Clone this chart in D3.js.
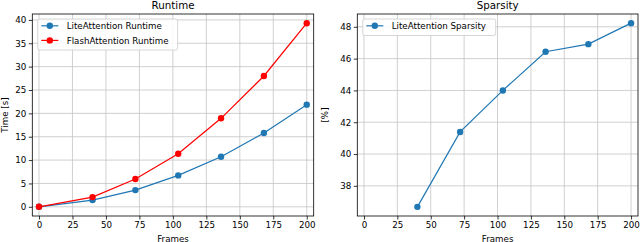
<!DOCTYPE html>
<html><head><meta charset="utf-8">
<script src="https://cdn.jsdelivr.net/npm/d3@7"></script>
<style>
html,body{margin:0;padding:0;background:#fff;}
text{font-family:"DejaVu Sans",sans-serif;}
</style></head>
<body><svg id="c" width="640" height="242"></svg>
<script>
const frames = [0, 40, 72, 104, 136, 168, 200];
const liteRuntime = [0, 1.44, 3.58, 6.72, 10.72, 15.8, 21.86];
const flashRuntime = [0, 2.08, 5.94, 11.36, 18.94, 28.0, 39.3];
const sparsityFrames = [40, 72, 104, 136, 168, 200];
const liteSparsity = [36.68, 41.39, 44.0, 46.43, 46.91, 48.23];
const xTicks = [0, 25, 50, 75, 100, 125, 150, 175, 200];
const runtimeTicks = [0, 5, 10, 15, 20, 25, 30, 35, 40];
const sparsityTicks = [38, 40, 42, 44, 46, 48];

const svg = d3.select("#c");
const FS = 8.7;

function panel(opt) {
  const g = svg.append("g");
  const x = d3.scaleLinear().domain([-5, 205.2]).range([opt.left, opt.right]);
  const y = d3.scaleLinear().domain(opt.ydom).range([opt.bottom, opt.top]);
  // grid
  g.append("g").selectAll("line").data(xTicks).join("line")
    .attr("x1", d => x(d)).attr("x2", d => x(d))
    .attr("y1", opt.top).attr("y2", opt.bottom)
    .attr("stroke", "#c4c4c4").attr("stroke-width", 0.8);
  g.append("g").selectAll("line").data(opt.yticks).join("line")
    .attr("y1", d => y(d)).attr("y2", d => y(d))
    .attr("x1", opt.left).attr("x2", opt.right)
    .attr("stroke", "#c4c4c4").attr("stroke-width", 0.8);
  // axes
  const xa = g.append("g").attr("transform", `translate(0,${opt.bottom})`)
    .call(d3.axisBottom(x).tickValues(xTicks).tickSize(3.5).tickPadding(2.5).tickFormat(d3.format("d")));
  const ya = g.append("g").attr("transform", `translate(${opt.left},0)`)
    .call(d3.axisLeft(y).tickValues(opt.yticks).tickSize(3.5).tickPadding(2.5).tickFormat(d3.format("d")));
  [xa, ya].forEach(a => {
    a.select(".domain").remove();
    a.selectAll("line").attr("stroke", "#000").attr("stroke-width", 0.8);
    a.selectAll("text").attr("font-size", FS).attr("fill", "#000").attr("font-family", "DejaVu Sans");
  });
  // spines
  g.append("rect").attr("x", opt.left).attr("y", opt.top)
    .attr("width", opt.right - opt.left).attr("height", opt.bottom - opt.top)
    .attr("fill", "none").attr("stroke", "#000").attr("stroke-width", 0.8);
  // series
  opt.series.forEach(s => {
    const pts = s.xs.map((v, i) => [v, s.ys[i]]);
    g.append("path").datum(pts)
      .attr("d", d3.line().x(d => x(d[0])).y(d => y(d[1])))
      .attr("fill", "none").attr("stroke", s.color).attr("stroke-width", 1.2);
    g.append("g").selectAll("circle").data(pts).join("circle")
      .attr("cx", d => x(d[0])).attr("cy", d => y(d[1])).attr("r", 3.2)
      .attr("fill", s.color);
  });
  // title and labels
  const cx = (opt.left + opt.right) / 2;
  g.append("text").attr("x", cx).attr("y", 9.3).attr("text-anchor", "middle")
    .attr("font-size", 10.3).text(opt.title);
  g.append("text").attr("x", cx).attr("y", 241.5).attr("text-anchor", "middle")
    .attr("font-size", FS).text("Frames");
  g.append("text").attr("transform", `translate(${opt.ylabX},${(opt.top + opt.bottom) / 2}) rotate(-90)`)
    .attr("text-anchor", "middle").attr("font-size", FS).text(opt.ylabel);
  // legend
  const lg = g.append("g");
  lg.append("rect").attr("x", opt.left + 5.4).attr("y", opt.top + 5)
    .attr("width", opt.legW).attr("height", 14.5 * opt.series.length + 2)
    .attr("rx", 2).attr("fill", "#fff").attr("fill-opacity", 0.85)
    .attr("stroke", "#cccccc").attr("stroke-width", 0.8);
  opt.series.forEach((s, i) => {
    const yy = opt.top + 11.8 + i * 14.6;
    const lx = opt.left + 9;
    lg.append("line").attr("x1", lx).attr("x2", lx + 17).attr("y1", yy).attr("y2", yy)
      .attr("stroke", s.color).attr("stroke-width", 1.2);
    lg.append("circle").attr("cx", lx + 8.5).attr("cy", yy).attr("r", 3.2).attr("fill", s.color);
    lg.append("text").attr("x", lx + 25.4).attr("y", yy + 3.1).attr("font-size", FS).text(s.name);
  });
}

panel({
  left: 32.3, right: 313.7, top: 14, bottom: 216,
  ydom: [-1.965, 41.265], yticks: runtimeTicks, title: "Runtime", ylabel: "Time [s]", ylabX: 8,
  legW: 140,
  series: [
    {name: "LiteAttention Runtime", xs: frames, ys: liteRuntime, color: "#1f77b4"},
    {name: "FlashAttention Runtime", xs: frames, ys: flashRuntime, color: "#ff0000"}
  ]
});
panel({
  left: 357.3, right: 638, top: 14, bottom: 216,
  ydom: [36.105, 48.805], yticks: sparsityTicks, title: "Sparsity", ylabel: "[%]", ylabX: 328,
  legW: 133,
  series: [
    {name: "LiteAttention Sparsity", xs: sparsityFrames, ys: liteSparsity, color: "#1f77b4"}
  ]
});
</script></body></html>
